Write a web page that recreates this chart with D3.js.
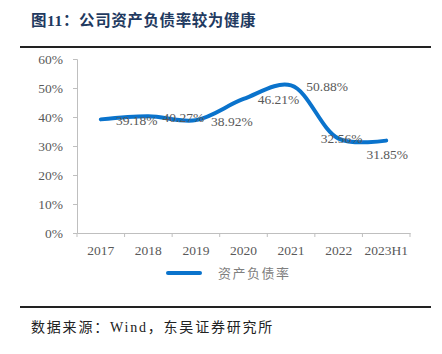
<!DOCTYPE html>
<html>
<head>
<meta charset="utf-8">
<script src="https://cdn.jsdelivr.net/npm/d3@7"></script>
<style>
  body { margin: 0; background: #fff; }
  svg { display: block; }
</style>
</head>
<body>
<script>
// data
const years = ["2017", "2018", "2019", "2020", "2021", "2022", "2023H1"];
const debtRatio = [39.18, 40.27, 38.92, 46.21, 50.88, 32.56, 31.85];
const valueLabels = ["39.18%", "40.27%", "38.92%", "46.21%", "50.88%", "32.56%", "31.85%"];
const yTicks = [0, 10, 20, 30, 40, 50, 60];

// label placement (layout only)
const labelDx = [36, 35, 36, 35, 36, 3, 1];
const labelDy = [1, 1, 1, 0, 1, 0, 14];

const W = 442, H = 354;
const margin = { top: 59, left: 77, right: 32, bottom: 121 };

const svg = d3.select("body").append("svg")
  .attr("width", W)
  .attr("height", H);

// title
svg.append("text")
  .attr("x", 31).attr("y", 26)
  .attr("font-family", "'Liberation Serif', 'Noto Sans CJK SC'")
  .attr("font-size", 15.5)
  .attr("font-weight", "bold")
  .attr("letter-spacing", 0.6)
  .attr("fill", "#1f3a60")
  .text("图11：公司资产负债率较为健康");

svg.append("line")
  .attr("x1", 20).attr("x2", 431)
  .attr("y1", 47).attr("y2", 47)
  .attr("stroke", "#222").attr("stroke-width", 2);

const x = d3.scaleBand()
  .domain(years)
  .range([margin.left, W - margin.right]);

const y = d3.scaleLinear()
  .domain([0, 60])
  .range([H - margin.bottom, margin.top]);

const tickFont = "'Liberation Serif', 'Times New Roman', serif";

// y axis
const yAxis = svg.append("g")
  .attr("transform", `translate(${margin.left},0)`)
  .call(d3.axisLeft(y).tickValues(yTicks).tickFormat(d => d + "%").tickSize(4).tickPadding(10));
yAxis.select(".domain").attr("stroke", "#bfbfbf");
yAxis.selectAll(".tick line").attr("stroke", "#bfbfbf");
yAxis.selectAll("text")
  .attr("font-family", tickFont)
  .attr("font-size", 13.5)
  .attr("fill", "#595959");

// x axis
const xAxis = svg.append("g")
  .attr("transform", `translate(0,${H - margin.bottom})`)
  .call(d3.axisBottom(x).tickSize(0).tickPadding(12));
xAxis.select(".domain").attr("stroke", "#bfbfbf");
xAxis.selectAll("text")
  .attr("font-family", tickFont)
  .attr("font-size", 13.5)
  .attr("fill", "#595959");
// tick marks sit between categories
xAxis.selectAll(".sep")
  .data(years.concat(["end"]))
  .join("line")
  .attr("class", "sep")
  .attr("x1", (d, i) => margin.left + i * x.step())
  .attr("x2", (d, i) => margin.left + i * x.step())
  .attr("y1", 0).attr("y2", 4)
  .attr("stroke", "#bfbfbf");

const cx = d => x(d) + x.bandwidth() / 2;

const line = d3.line()
  .x((d, i) => cx(years[i]))
  .y(d => y(d))
  .curve(d3.curveCatmullRom.alpha(0.5));

svg.append("path")
  .datum(debtRatio)
  .attr("d", line)
  .attr("fill", "none")
  .attr("stroke", "#0a73cc")
  .attr("stroke-width", 4)
  .attr("stroke-linecap", "round");

svg.selectAll(".vlabel")
  .data(debtRatio)
  .join("text")
  .attr("class", "vlabel")
  .attr("x", (d, i) => cx(years[i]) + labelDx[i])
  .attr("y", (d, i) => y(d) + labelDy[i])
  .attr("dy", "0.35em")
  .attr("text-anchor", "middle")
  .attr("font-family", tickFont)
  .attr("font-size", 13.5)
  .attr("fill", "#595959")
  .text((d, i) => valueLabels[i]);

// legend
const legend = svg.append("g").attr("transform", "translate(168,273)");
legend.append("line")
  .attr("x1", 0).attr("x2", 32)
  .attr("stroke", "#0a73cc").attr("stroke-width", 4)
  .attr("stroke-linecap", "round");
legend.append("text")
  .attr("x", 50).attr("dy", "0.35em")
  .attr("font-family", "'Noto Sans CJK SC'")
  .attr("font-size", 13)
  .attr("letter-spacing", 1.5)
  .attr("fill", "#7f7f7f")
  .text("资产负债率");

svg.append("line")
  .attr("x1", 20).attr("x2", 431)
  .attr("y1", 307).attr("y2", 307)
  .attr("stroke", "#222").attr("stroke-width", 2);

svg.append("text")
  .attr("x", 31).attr("y", 332)
  .attr("font-family", "'Liberation Serif', 'Noto Sans CJK SC'")
  .attr("font-size", 14)
  .attr("letter-spacing", 1.8)
  .attr("fill", "#222")
  .text("数据来源：Wind，东吴证券研究所");
</script>
</body>
</html>
